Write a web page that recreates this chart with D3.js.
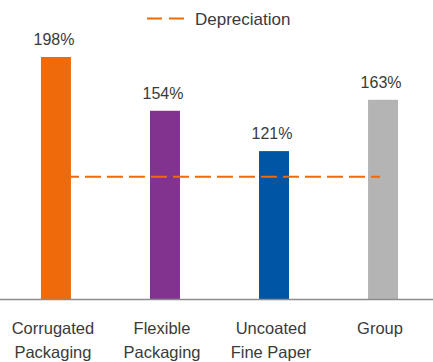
<!DOCTYPE html>
<html><head><meta charset="utf-8">
<script src="https://cdn.jsdelivr.net/npm/d3@7"></script>
<style>body{margin:0;background:#fff}svg{display:block}text{font-family:"Liberation Sans",Arial,sans-serif;fill:#3a3a3a}</style>
</head><body>
<svg id="c" width="433" height="362"></svg>
<script>
const categories = [["Corrugated","Packaging"],["Flexible","Packaging"],["Uncoated","Fine Paper"],["Group"]];
const values = [198, 154, 121, 163];
const depreciation = 100;
const colors = ["#EE6A0B","#81348F","#0055A4","#B4B4B4"];
const labels = ["198%","154%","121%","163%"];
const legendLabel = "Depreciation";

const svg = d3.select("#c");
const x = d3.scaleBand().domain(d3.range(values.length)).range([1.5, 437.5]).paddingInner(0.725).paddingOuter(0.362);
const y = d3.scaleLinear().domain([0, 198]).range([299, 57]);

svg.selectAll("rect.bar").data(values).join("rect").attr("class","bar")
  .attr("x",(d,i)=>x(i)).attr("width",x.bandwidth())
  .attr("y",d=>y(d)).attr("height",d=>y(0)-y(d)).attr("fill",(d,i)=>colors[i]);

svg.append("line").attr("x1",0).attr("x2",433).attr("y1",y(0)+0.5).attr("y2",y(0)+0.5)
  .attr("stroke","#8c8c8c").attr("stroke-width",1.5);

svg.selectAll("text.val").data(values).join("text").attr("class","val")
  .attr("x",(d,i)=>x(i)+x.bandwidth()/2-2).attr("y",d=>y(d)-12)
  .attr("text-anchor","middle").attr("font-size",16).text((d,i)=>labels[i]);

const g = svg.selectAll("g.cat").data(categories).join("g").attr("class","cat");
g.each(function(lines,i){
  const t = d3.select(this).append("text").attr("text-anchor","middle").attr("font-size",16.5);
  lines.forEach((l,j)=>t.append("tspan").attr("x",x(i)+x.bandwidth()/2-3).attr("y",334+24*j).text(l));
});

svg.append("line").attr("x1",x(0)+x.bandwidth()).attr("x2",x(3)+12)
  .attr("y1",y(depreciation)).attr("y2",y(depreciation))
  .attr("stroke","#EE6A0B").attr("stroke-width",2).attr("stroke-dasharray","16,6").attr("stroke-dashoffset",-14);

svg.append("line").attr("x1",147).attr("x2",185).attr("y1",18.5).attr("y2",18.5)
  .attr("stroke","#EE6A0B").attr("stroke-width",2).attr("stroke-dasharray","15,7");
svg.append("text").attr("x",195).attr("y",25).attr("font-size",17).text(legendLabel);
</script>
</body></html>
